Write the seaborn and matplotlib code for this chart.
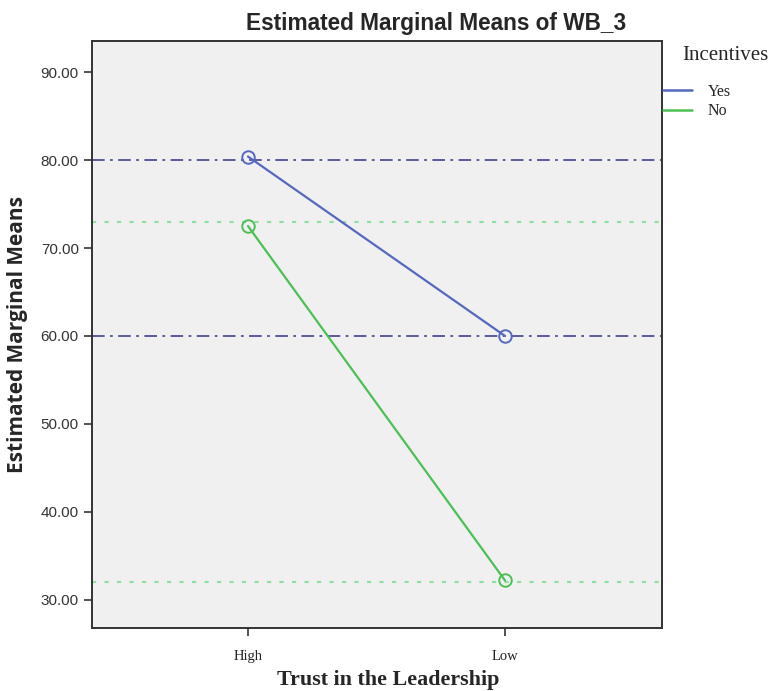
import pandas as pd
import matplotlib
matplotlib.use("Agg")
import matplotlib.pyplot as plt
from matplotlib.lines import Line2D
import seaborn as sns

# Values
trust_levels = ["High", "Low"]
incentives = ["Yes", "No"]
means_yes = [80.4, 60.0]
means_no = [72.5, 32.2]
ref_yes = [80.0, 60.0]
ref_no = [73.0, 32.0]
y_ticks = [30, 40, 50, 60, 70, 80, 90]

colors = {"Yes": "#5468c0", "No": "#4cc054"}
ref_colors = {"Yes": "#4f4f94", "No": "#8fe0a0"}

df = pd.DataFrame({
    "trust": trust_levels * 2,
    "incentives": ["Yes"] * 2 + ["No"] * 2,
    "wb": means_yes + means_no,
})

sns.set_style("white")
serif = ["Liberation Serif", "DejaVu Serif"]
sans = ["Liberation Sans", "DejaVu Sans"]

fig = plt.figure(figsize=(7.69, 6.91), dpi=100)
ax = fig.add_axes([0.1196, 0.0912, 0.741, 0.849])
ax.set_facecolor("#f0f0f0")

# reference lines
for y in ref_yes:
    ax.axhline(y, color=ref_colors["Yes"], lw=1.3, ls=(0, (7, 3, 1.5, 3)), zorder=1)
for y in ref_no:
    ax.axhline(y, color=ref_colors["No"], lw=1.5, ls=(0, (2, 4)), zorder=1)

sns.lineplot(data=df, x="trust", y="wb", hue="incentives", hue_order=incentives,
             palette=colors, marker="o", markersize=9, lw=1.6, ax=ax,
             legend=False, zorder=3)
for line in ax.get_lines()[len(ref_yes) + len(ref_no):]:
    line.set_markerfacecolor("none")
    line.set_markeredgecolor(line.get_color())
    line.set_markeredgewidth(1.4)

ax.set_xlim(-0.607, 1.61)
ax.set_ylim(26.8, 93.5)
ax.set_yticks(y_ticks)
ax.set_yticklabels([f"{v:.2f}" for v in y_ticks], family=sans, fontsize=11, color="#333333")
ax.set_xticks(range(len(trust_levels)))
ax.set_xticklabels(trust_levels, family=serif, fontsize=10.5, color="#222222")
ax.tick_params(axis="both", direction="out", length=6, width=1.2, color="#333333", left=True, bottom=True)
ax.tick_params(axis="x", pad=10)
for s in ax.spines.values():
    s.set_color("#333333")
    s.set_linewidth(1.4)

ax.set_xlabel("Trust in the Leadership", family=serif, fontsize=15.8, fontweight="bold")
ax.xaxis.set_label_coords(0.52, -0.071)
ax.set_ylabel("Estimated Marginal Means", family=["Open Sans", "DejaVu Sans"], fontsize=15,
              fontweight="bold")
ax.yaxis.set_label_coords(-0.112, 0.5)

fig.text(0.567, 0.966, "Estimated Marginal Means of WB_3", family=sans, fontsize=16.3,
         fontweight="bold", ha="center", va="center")

# legend, with its title as separate text to match the offset layout
fig.text(0.943, 1 - 55 / 691, "Incentives", family=serif, fontsize=15, ha="center", va="center")
handles = [Line2D([], [], color=colors[k], lw=1.8) for k in incentives]
fig.legend(handles, incentives, loc="upper left", bbox_to_anchor=(0.862, 1 - 84 / 691),
           frameon=False, handlelength=1.8, prop={"family": serif, "size": 11.5},
           labelspacing=0.2, handletextpad=1.0, borderaxespad=0, borderpad=0)

fig.savefig("out.png", dpi=100)
